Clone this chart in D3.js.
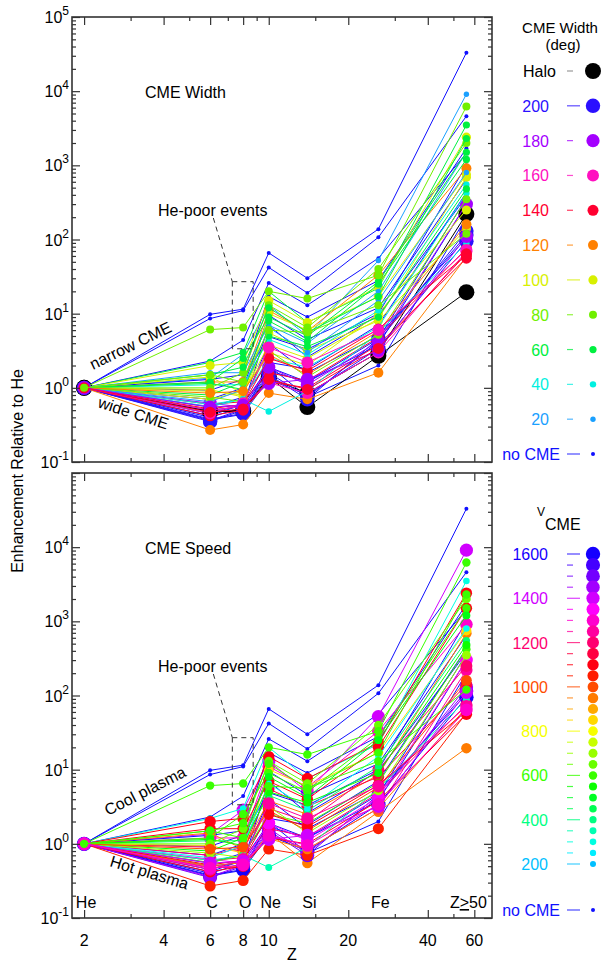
<!DOCTYPE html>
<html>
<head>
<meta charset="utf-8">
<script src="https://cdn.jsdelivr.net/npm/d3@7"></script>
<style>
  body { margin: 0; background: #fff; }
  svg { display: block; font-family: "Liberation Sans", Arial, Helvetica, sans-serif; }
</style>
</head>
<body>
<svg id="canvas"></svg>
<script>
// element labels and their Z
const elements = ["He", "C", "O", "Ne", "Si", "Fe", "Z≥50"];
const elementZ = [2, 6, 8, 10, 14, 26, 56];

// enhancement relative to He, one entry per event (He = 1)
const cRatio  = [9.8, 8.6, 2.3, 1.35, 0.93, 0.7, 0.55, 0.5, 0.42, 0.37, 0.45, 1.3, 0.4, 2.2, 0.48, 0.48, 0.35, 0.38, 0.36, 0.27, 0.5, 0.6, 0.42, 0.62, 1.2, 1.4, 0.7, 0.9, 0.95, 2.0, 0.56, 0.6, 1.1, 1.6, 0.65, 1.2, 0.8, 1.15, 1.0, 0.75, 0.85, 0.52, 1.5, 0.45, 6.1, 0.55, 0.47, 1.5];
const oRatio  = [11.5, 11.0, 4.4, 2.85, 1.3, 1.0, 0.75, 0.56, 0.6, 0.44, 0.6, 1.5, 0.55, 3.0, 0.5, 0.48, 0.5, 0.45, 0.52, 0.32, 0.56, 0.65, 0.5, 0.55, 1.2, 0.85, 0.9, 0.8, 0.75, 2.2, 0.7, 0.7, 1.1, 1.6, 0.95, 2.5, 1.2, 0.95, 1.6, 0.65, 0.9, 0.6, 1.9, 0.62, 6.5, 0.58, 0.52, 1.2];
const neRatio = [66, 42, 26, 13, 4.9, 9.5, 2.2, 1.7, 1.9, 2.0, 4.0, 17, 7, 20, 1.4, 1.35, 1.5, 1.3, 1.6, 0.85, 1.17, 1.6, 1.2, 1.9, 11, 3.8, 3.0, 5.5, 10, 15, 2.5, 0.48, 4.5, 7.0, 6.5, 9.0, 8, 5.0, 13, 3.2, 2.8, 2.5, 12, 3.5, 20, 1.15, 1.3, 6.0];
const siRatio = [30, 19, 13, 5.0, 3.3, 4.5, 1.8, 1.2, 1.2, 0.75, 1.6, 9, 2.6, 7.6, 0.55, 0.85, 0.7, 0.8, 0.75, 0.7, 0.85, 1.25, 1.0, 1.1, 5.8, 2.5, 2.0, 3.2, 6, 7.6, 1.9, 0.9, 2.8, 4.0, 3.0, 5.0, 4.2, 3.6, 6.5, 1.4, 1.5, 1.7, 5.6, 2.2, 16, 1.3, 0.95, 5.6];
const feRatio = [138, 107, 56, 52, 10, 12, 7, 4.6, 3.8, 2.0, 5, 28, 9.5, 22, 2.7, 3.0, 4.6, 3.4, 4.2, 1.6, 3.0, 4.8, 3.8, 4.2, 33, 8.5, 10, 8, 17, 23, 6.6, 5.5, 11, 20, 15, 27, 25, 9, 40, 5.2, 5.8, 6.2, 17, 6, 33, 3.2, 3.4, 13];
const zRatio  = [33000, 4600, 1450, 9100, 1000, 650, 430, 360, 300, 200, 105, 1700, 380, 3500, 19.5, 220, 115, 95, 130, 58, 69, 75, 56, 300, 910, 690, 250, 140, 750, 2400, 420, 89, 550, 1500, 800, 1500, 1200, 480, 2000, 350, 160, 62, 2300, 72, 6200, 110, 64, 120];

// CME width (deg, "Halo", or null = no CME) and CME speed (km/s, null = no CME)
const cmeWidth = [null, null, null, 20, null, null, null, null, null, null, null, null, null, 60, "Halo", "Halo", 200, 200, 200, 120, 160, 140, 140, 180, 120, 100, 100, 100, 100, 100, 40, 40, 40, 20, 20, 60, 60, 60, 80, 80, 120, 140, 60, 160, 80, 180, 140, 80];
const cmeSpeed = [null, null, null, 1400, null, null, null, null, null, null, null, null, null, 300, 950, 1250, 1500, 1600, 1450, 1050, 950, 1200, 1100, 1350, 1300, 950, 1200, 1150, 850, 1100, 600, 350, 420, 1100, 280, 600, 520, 550, 650, 700, 1000, 1100, 600, 1250, 600, 1400, 1300, 600];

// legend categories
const widthCats = ["Halo", 200, 180, 160, 140, 120, 100, 80, 60, 40, 20, "no CME"];
const widthColors = ["#000000", "#2a10ff", "#a400ff", "#ff10c0", "#ff0030", "#ff8000", "#d8f000", "#70f000", "#00f040", "#00f0e0", "#1aa0ff", "#1010ff"];
const widthLongDash = [200, 100, "no CME"];
const speedSteps = [1600, 1550, 1500, 1450, 1400, 1350, 1300, 1250, 1200, 1150, 1100, 1050, 1000, 950, 900, 850, 800, 750, 700, 650, 600, 550, 500, 450, 400, 350, 300, 250, 200];
const speedLabels = [1600, 1400, 1200, 1000, 800, 600, 400, 200];

const width = 606, height = 964;
const svg = d3.select("#canvas").attr("width", width).attr("height", height);

const plot = { left: 72, right: 492 };
const panels = [
  { top: 17, bottom: 462, title: "CME Width", mode: "width" },
  { top: 473, bottom: 918, title: "CME Speed", mode: "speed" }
];

const xScale = d3.scaleLog().domain([1.8, 70]).range([plot.left, plot.right]);

// styles
const noCmeColor = "#1010ff";
const widthColor = d3.scaleOrdinal().domain(widthCats).range(widthColors);
const widthRadius = d3.scaleOrdinal().domain(widthCats).range([8, 7.2, 6.6, 6, 5.5, 5, 4.6, 4, 3.6, 3.2, 2.7, 2]);
const speedHue = d3.scaleLinear().domain([1600, 200]).range([245, 555]);
const speedColor = v => v == null ? noCmeColor : d3.hsl(speedHue(v) % 360, 1, 0.5).formatHex();
const speedRadius = d3.scaleLinear().domain([200, 1600]).range([3, 7.2]);

const events = cRatio.map((c, i) => ({
  values: [1, c, oRatio[i], neRatio[i], siRatio[i], feRatio[i], zRatio[i]],
  w: cmeWidth[i] == null ? "no CME" : cmeWidth[i],
  v: cmeSpeed[i]
}));

const xMajor = [2, 4, 6, 8, 10, 20, 40, 60];
const xMinor = [3, 5, 7, 9, 15, 30, 50];
const yMajor = [1e-1, 1, 1e1, 1e2, 1e3, 1e4, 1e5];
const yMinor = [];
yMajor.slice(0, -1).forEach(d => d3.range(2, 10).forEach(k => yMinor.push(d * k)));

panels.forEach((p, pi) => {
  const yScale = d3.scaleLog().domain([0.1, 1e5]).range([p.bottom, p.top]);
  const g = svg.append("g").classed("panel", true);

  const colorOf = p.mode === "width" ? (e => widthColor(e.w)) : (e => speedColor(e.v));
  const radiusOf = p.mode === "width" ? (e => widthRadius(e.w)) : (e => e.v == null ? 2 : speedRadius(e.v));

  const line = d3.line().x((d, j) => xScale(elementZ[j])).y(d => yScale(d));

  const dataGroup = g.append("g");
  events.forEach(e => {
    const eg = dataGroup.append("g");
    eg.append("path")
      .attr("d", line(e.values))
      .attr("fill", "none")
      .attr("stroke", colorOf(e))
      .attr("stroke-width", 1);
    eg.selectAll("circle")
      .data(e.values)
      .join("circle")
      .attr("cx", (d, j) => xScale(elementZ[j]))
      .attr("cy", d => yScale(d))
      .attr("r", radiusOf(e))
      .attr("fill", colorOf(e));
  });

  // axes with inward ticks
  const axisColor = "#333";
  const addAxis = (axis, tx, ty) => {
    g.append("g").attr("transform", `translate(${tx},${ty})`)
      .call(axis)
      .call(a => a.select(".domain").remove())
      .call(a => a.selectAll("line").attr("stroke", axisColor).attr("stroke-width", 1.2))
      .call(a => a.selectAll("text").remove());
  };
  addAxis(d3.axisLeft(yScale).tickValues(yMajor).tickSize(-8), plot.left, 0);
  addAxis(d3.axisLeft(yScale).tickValues(yMinor).tickSize(-4), plot.left, 0);
  addAxis(d3.axisRight(yScale).tickValues(yMajor).tickSize(-8), plot.right, 0);
  addAxis(d3.axisRight(yScale).tickValues(yMinor).tickSize(-4), plot.right, 0);
  addAxis(d3.axisBottom(xScale).tickValues(xMajor).tickSize(-8), 0, p.bottom);
  addAxis(d3.axisBottom(xScale).tickValues(xMinor).tickSize(-4), 0, p.bottom);
  addAxis(d3.axisTop(xScale).tickValues(xMajor).tickSize(-8), 0, p.top);
  addAxis(d3.axisTop(xScale).tickValues(xMinor).tickSize(-4), 0, p.top);

  g.append("rect")
    .attr("x", plot.left).attr("y", p.top)
    .attr("width", plot.right - plot.left).attr("height", p.bottom - p.top)
    .attr("fill", "none").attr("stroke", axisColor).attr("stroke-width", 1.6);

  // y tick labels as 10^n
  const yLabels = pi === 0 ? yMajor : yMajor.slice(0, -1);
  yLabels.forEach(v => {
    const t = g.append("text")
      .attr("x", 69).attr("y", yScale(v) + 6)
      .attr("text-anchor", "end")
      .style("font-size", "16px");
    t.append("tspan").text("10");
    t.append("tspan").attr("dy", -8).style("font-size", "12px").text(Math.round(Math.log10(v)));
  });

  // panel title and He-poor annotation
  g.append("text").attr("x", 145).attr("y", p.top + 81).style("font-size", "16px").text(p.title);
  g.append("text").attr("x", 158).attr("y", p.top + 199).style("font-size", "16px").text("He-poor events");
  const boxX0 = xScale(7.28), boxX1 = xScale(8.73);
  const boxY0 = yScale(27), boxY1 = yScale(3.36);
  g.append("path")
    .attr("d", `M${xScale(6.17)},${p.top + 201} L${boxX0},${boxY0}`)
    .attr("fill", "none").attr("stroke", "#333").attr("stroke-dasharray", "5,4");
  g.append("rect")
    .attr("x", boxX0).attr("y", boxY0).attr("width", boxX1 - boxX0).attr("height", boxY1 - boxY0)
    .attr("fill", "none").attr("stroke", "#333").attr("stroke-dasharray", "5,4");

  // group labels along the lines
  const notes = pi === 0
    ? [["narrow CME", 93, 370, -26], ["wide CME", 97, 407, 18]]
    : [["Cool plasma", 108, 816, -27], ["Hot plasma", 109, 866, 17]];
  notes.forEach(([txt, x, y, a]) => {
    g.append("text").attr("transform", `translate(${x},${y}) rotate(${a})`)
      .style("font-size", "16px").text(txt);
  });

  // element names in lower panel
  if (pi === 1) {
    elements.forEach((el, j) => {
      const t = g.append("text")
        .attr("x", xScale(elementZ[j]) + 2).attr("y", 908)
        .attr("text-anchor", "middle")
        .style("font-size", "16px");
      if (el === "Z≥50") {
        t.append("tspan").text("Z");
        t.append("tspan").style("text-decoration", "underline").text(">");
        t.append("tspan").text("50");
      } else {
        t.text(el);
      }
    });
  }
});

// x tick labels and axis titles
const xLab = svg.append("g");
xMajor.forEach(v => {
  xLab.append("text").attr("x", xScale(v)).attr("y", 946)
    .attr("text-anchor", "middle").style("font-size", "16px").text(v);
});
svg.append("text").attr("x", 292).attr("y", 960).attr("text-anchor", "middle").style("font-size", "16px").text("Z");
svg.append("text").attr("transform", "translate(23,471) rotate(-90)")
  .attr("text-anchor", "middle").style("font-size", "16px").text("Enhancement Relative to He");

// legend: CME width
const lg1 = svg.append("g").classed("legendWidth", true);
lg1.append("text").attr("x", 560).attr("y", 33).attr("text-anchor", "middle").style("font-size", "15px").text("CME Width");
lg1.append("text").attr("x", 563).attr("y", 50).attr("text-anchor", "middle").style("font-size", "15px").text("(deg)");
const widthLegendY = d3.scalePoint().domain(widthCats).range([71, 454]);
widthCats.forEach(c => {
  const y = widthLegendY(c);
  const col = widthColor(c);
  const lab = lg1.append("text").attr("y", y + 6).style("font-size", "16px").attr("fill", col).text(c);
  if (c === "Halo") lab.attr("x", 523);
  else if (c === "no CME") lab.attr("x", 560).attr("text-anchor", "end");
  else lab.attr("x", 549).attr("text-anchor", "end");
  const long = widthLongDash.includes(c);
  lg1.append("line")
    .attr("x1", 567).attr("x2", long ? 580 : 573).attr("y1", y).attr("y2", y)
    .attr("stroke", c === "Halo" ? "#777" : col).attr("stroke-width", 1.2).attr("opacity", 0.75);
  lg1.append("circle").attr("cx", 593).attr("cy", y).attr("r", widthRadius(c)).attr("fill", col);
});

// legend: CME speed
const lg2 = svg.append("g").classed("legendSpeed", true);
const vt = lg2.append("text").attr("x", 537).attr("y", 516);
vt.append("tspan").style("font-size", "12px").text("V");
vt.append("tspan").attr("dy", 14).style("font-size", "16px").text("CME");
const speedLegendY = d3.scaleLinear().domain([1600, 200]).range([554, 864]);
speedSteps.forEach(s => {
  const y = speedLegendY(s);
  const col = speedColor(s);
  const long = speedLabels.includes(s);
  lg2.append("line")
    .attr("x1", 567).attr("x2", long ? 580 : 573).attr("y1", y).attr("y2", y)
    .attr("stroke", col).attr("stroke-width", 1.2).attr("opacity", 0.75);
  lg2.append("circle").attr("cx", 593).attr("cy", y).attr("r", speedRadius(s)).attr("fill", col);
  if (long) {
    lg2.append("text").attr("x", 548).attr("y", y + 6).attr("text-anchor", "end")
      .style("font-size", "16px").attr("fill", col).text(s);
  }
});
lg2.append("text").attr("x", 560).attr("y", 916).attr("text-anchor", "end")
  .style("font-size", "16px").attr("fill", noCmeColor).text("no CME");
lg2.append("line").attr("x1", 567).attr("x2", 580).attr("y1", 910).attr("y2", 910)
  .attr("stroke", noCmeColor).attr("stroke-width", 1.2).attr("opacity", 0.75);
lg2.append("circle").attr("cx", 593).attr("cy", 910).attr("r", 2).attr("fill", noCmeColor);
</script>
</body>
</html>
